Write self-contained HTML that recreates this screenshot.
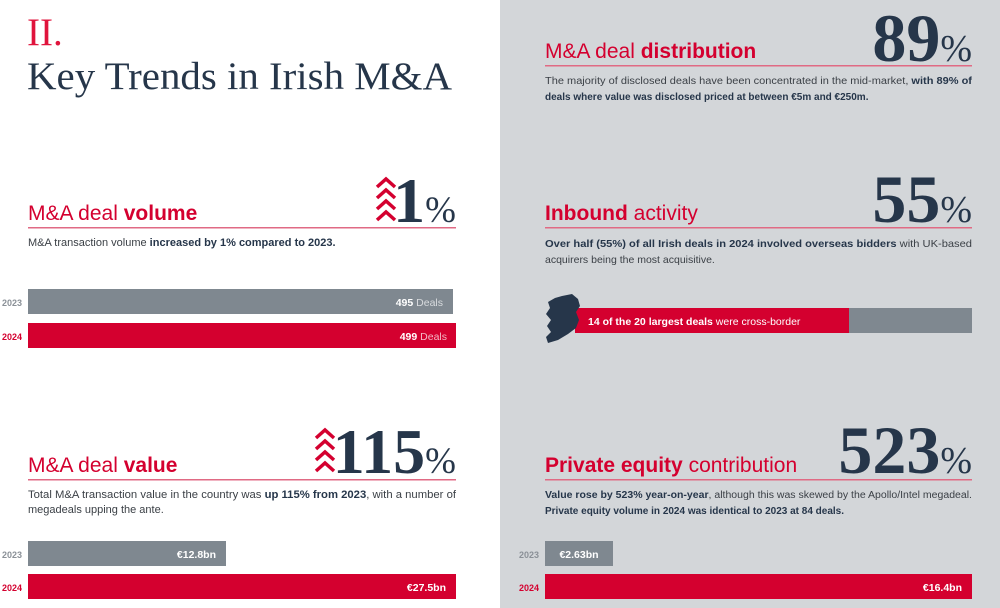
<!DOCTYPE html>
<html><head><meta charset="utf-8"><style>
html,body{margin:0;padding:0;background:#fff;}
svg{display:block;font-family:"Liberation Sans",sans-serif;}
.serif{font-family:"Liberation Serif",serif;}
</style></head><body>
<svg width="1000" height="608" viewBox="0 0 1000 608" xmlns="http://www.w3.org/2000/svg">
<rect x="0" y="0" width="1000" height="608" fill="#fff"/>
<rect x="500" y="0" width="500" height="608" fill="#d3d6d9"/>

<text x="27" y="45" class="serif" font-size="39" fill="#e0143c">II.</text>
<text x="27" y="89" class="serif" font-size="39" fill="#26364a" textLength="425" lengthAdjust="spacingAndGlyphs">Key Trends in Irish M&amp;A</text>

<text x="28" y="220" font-size="21" fill="#d4002f"><tspan>M&amp;A deal </tspan><tspan font-weight="bold">volume</tspan></text>
<rect x="28" y="227" width="428" height="1.5" fill="#e06a84"/>
<g fill="none" stroke="#d4002f" stroke-width="3.5">
<polyline points="377,187 386,179 395,187"/><polyline points="377,198 386,190 395,198"/><polyline points="377,209 386,201 395,209"/><polyline points="377,220 386,212 395,220"/>
</g>
<text x="456" y="222" class="serif" font-weight="bold" fill="#26364a" text-anchor="end"><tspan font-size="64">1</tspan><tspan font-size="37" font-weight="normal">%</tspan></text>
<text x="28" y="246" font-size="11" fill="#3a3f45"><tspan>M&amp;A transaction volume </tspan><tspan font-weight="bold" fill="#26364a">increased by 1% compared to 2023.</tspan></text>

<text x="2" y="306" font-size="9" font-weight="bold" fill="#8a9097">2023</text>
<rect x="28" y="289" width="425" height="25" fill="#7f8890"/>
<text x="443" y="306" font-size="10.5" fill="#fff" text-anchor="end"><tspan font-weight="bold">495</tspan><tspan fill="#d8dbde"> Deals</tspan></text>
<text x="2" y="340" font-size="9" font-weight="bold" fill="#d4002f">2024</text>
<rect x="28" y="323" width="428" height="25" fill="#d4002f"/>
<text x="447" y="340" font-size="10.5" fill="#fff" text-anchor="end"><tspan font-weight="bold">499</tspan><tspan fill="#f3b9c5"> Deals</tspan></text>

<text x="28" y="472" font-size="21" fill="#d4002f"><tspan>M&amp;A deal </tspan><tspan font-weight="bold">value</tspan></text>
<rect x="28" y="479" width="428" height="1.5" fill="#e06a84"/>
<g fill="none" stroke="#d4002f" stroke-width="3.5">
<polyline points="316,438 325,430 334,438"/><polyline points="316,449 325,441 334,449"/><polyline points="316,460 325,452 334,460"/><polyline points="316,471 325,463 334,471"/>
</g>
<text x="456" y="473" class="serif" font-weight="bold" fill="#26364a" text-anchor="end"><tspan font-size="64">115</tspan><tspan font-size="37" font-weight="normal">%</tspan></text>
<text x="28" y="498" font-size="11" fill="#3a3f45" textLength="428" lengthAdjust="spacingAndGlyphs"><tspan>Total M&amp;A transaction value in the country was </tspan><tspan font-weight="bold" fill="#26364a">up 115% from 2023</tspan><tspan>, with a number of</tspan></text>
<text x="28" y="513" font-size="11" fill="#3a3f45">megadeals upping the ante.</text>

<text x="2" y="558" font-size="9" font-weight="bold" fill="#8a9097">2023</text>
<rect x="28" y="541" width="198" height="25" fill="#7f8890"/>
<text x="216" y="558" font-size="10.5" font-weight="bold" fill="#fff" text-anchor="end">€12.8bn</text>
<text x="2" y="591" font-size="9" font-weight="bold" fill="#d4002f">2024</text>
<rect x="28" y="574" width="428" height="25" fill="#d4002f"/>
<text x="446" y="591" font-size="10.5" font-weight="bold" fill="#fff" text-anchor="end">€27.5bn</text>

<text x="545" y="58" font-size="21" fill="#d4002f"><tspan>M&amp;A deal </tspan><tspan font-weight="bold">distribution</tspan></text>
<rect x="545" y="65" width="427" height="1.5" fill="#e06a84"/>
<text x="972" y="61" class="serif" font-weight="bold" fill="#26364a" text-anchor="end"><tspan font-size="68">89</tspan><tspan font-size="38" font-weight="normal">%</tspan></text>
<text x="545" y="84" font-size="10" fill="#3a3f45" textLength="427" lengthAdjust="spacingAndGlyphs"><tspan>The majority of disclosed deals have been concentrated in the mid-market, </tspan><tspan font-weight="bold" fill="#26364a">with 89% of</tspan></text>
<text x="545" y="100" font-size="10" font-weight="bold" fill="#26364a">deals where value was disclosed priced at between €5m and €250m.</text>

<text x="545" y="220" font-size="21" fill="#d4002f"><tspan font-weight="bold">Inbound</tspan><tspan> activity</tspan></text>
<rect x="545" y="227" width="427" height="1.5" fill="#e06a84"/>
<text x="972" y="222" class="serif" font-weight="bold" fill="#26364a" text-anchor="end"><tspan font-size="68">55</tspan><tspan font-size="38" font-weight="normal">%</tspan></text>
<text x="545" y="247" font-size="10.5" fill="#3a3f45" textLength="427" lengthAdjust="spacingAndGlyphs"><tspan font-weight="bold" fill="#26364a">Over half (55%) of all Irish deals in 2024 involved overseas bidders</tspan><tspan> with UK-based</tspan></text>
<text x="545" y="263" font-size="10.5" fill="#3a3f45">acquirers being the most acquisitive.</text>

<rect x="575" y="308" width="274" height="25" fill="#d4002f"/>
<rect x="849" y="308" width="123" height="25" fill="#7f8890"/>
<path d="M562,296 L572,294 L578,299 L580,306 L576,312 L579,320 L576,328 L568,334 L558,340 L548,343 L546,337 L551,332 L547,326 L551,320 L546,314 L550,308 L548,302 L555,298 Z" fill="#26364a"/>
<text x="588" y="325" font-size="10.5" fill="#fff"><tspan font-weight="bold">14 of the 20 largest deals</tspan><tspan> were cross-border</tspan></text>

<text x="545" y="472" font-size="21" fill="#d4002f"><tspan font-weight="bold">Private equity</tspan><tspan> contribution</tspan></text>
<rect x="545" y="479" width="427" height="1.5" fill="#e06a84"/>
<text x="972" y="473" class="serif" font-weight="bold" fill="#26364a" text-anchor="end"><tspan font-size="68">523</tspan><tspan font-size="38" font-weight="normal">%</tspan></text>
<text x="545" y="498" font-size="10" fill="#3a3f45" textLength="427" lengthAdjust="spacingAndGlyphs"><tspan font-weight="bold" fill="#26364a">Value rose by 523% year-on-year</tspan><tspan>, although this was skewed by the Apollo/Intel megadeal.</tspan></text>
<text x="545" y="514" font-size="10" font-weight="bold" fill="#26364a">Private equity volume in 2024 was identical to 2023 at 84 deals.</text>

<text x="519" y="558" font-size="9" font-weight="bold" fill="#8a9097">2023</text>
<rect x="545" y="541" width="68" height="25" fill="#7f8890"/>
<text x="579" y="558" font-size="10.5" font-weight="bold" fill="#fff" text-anchor="middle">€2.63bn</text>
<text x="519" y="591" font-size="9" font-weight="bold" fill="#d4002f">2024</text>
<rect x="545" y="574" width="427" height="25" fill="#d4002f"/>
<text x="962" y="591" font-size="10.5" font-weight="bold" fill="#fff" text-anchor="end">€16.4bn</text>
</svg>
</body></html>
